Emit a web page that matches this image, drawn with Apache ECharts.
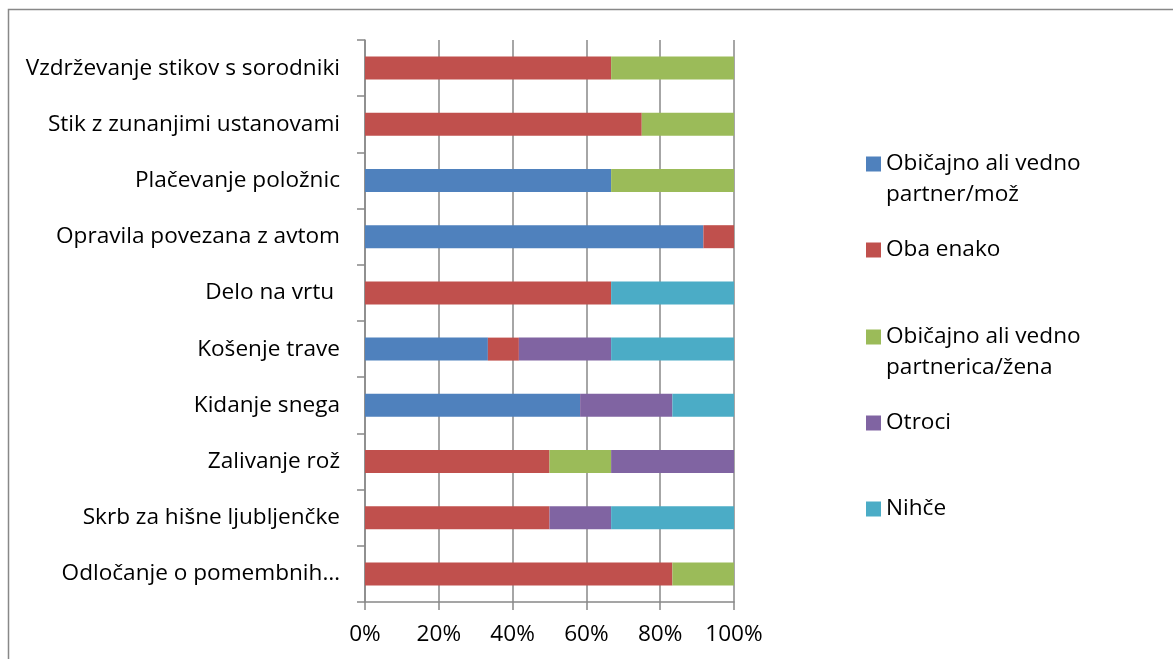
<!DOCTYPE html>
<html>
<head>
<meta charset="utf-8">
<script src="https://cdn.jsdelivr.net/npm/echarts@6/dist/echarts.min.js"></script>
<style>
  html, body { margin: 0; padding: 0; background: #fff; }
  #chart { width: 1173px; height: 659px; }
</style>
</head>
<body>
<div id="chart"></div>
<script>
// opravila od zgoraj navzdol
const categories = [
  'Vzdrževanje stikov s sorodniki',
  'Stik z zunanjimi ustanovami',
  'Plačevanje položnic',
  'Opravila povezana z avtom',
  'Delo na vrtu ',
  'Košenje trave',
  'Kidanje snega',
  'Zalivanje rož',
  'Skrb za hišne ljubljenčke',
  'Odločanje o pomembnih…'
];
const xTicks = [0, 20, 40, 60, 80, 100];

// deleži v %
const partnerMoz = [0, 0, 66.7, 91.7, 0, 33.3, 58.3, 0, 0, 0];
const obaEnako = [66.7, 75, 0, 8.3, 66.7, 8.4, 0, 50, 50, 83.3];
const partnericaZena = [33.3, 25, 33.3, 0, 0, 0, 0, 16.7, 0, 16.7];
const otroci = [0, 0, 0, 0, 0, 25, 25, 33.3, 16.7, 0];
const nihce = [0, 0, 0, 0, 33.3, 33.3, 16.7, 0, 33.3, 0];

const names = [
  'Običajno ali vedno\npartner/mož',
  'Oba enako',
  'Običajno ali vedno\npartnerica/žena',
  'Otroci',
  'Nihče'
];
const colors = ['#4F81BD', '#C0504D', '#9BBB59', '#8064A2', '#4BACC6'];
const values = [partnerMoz, obaEnako, partnericaZena, otroci, nihce];

const font = 'Open Sans';
const fontSize = 22.6;
const lineH = 31;
const legendCenters = [164, 250, 337, 423, 509];

// ena legenda na serijo, da je kvadratek poravnan s prvo vrstico
const legends = names.map((name, i) => {
  const twoLines = name.indexOf('\n') >= 0;
  const boxH = twoLines ? lineH * 3 : lineH;
  return {
    orient: 'vertical',
    left: 866,
    top: legendCenters[i] - boxH / 2,
    padding: 0,
    icon: 'rect',
    itemWidth: 15,
    itemHeight: 15,
    selectedMode: false,
    data: [name],
    formatter: (n) => (n.indexOf('\n') >= 0 ? ' \n' + n : n),
    textStyle: {
      fontFamily: font,
      fontSize: fontSize,
      color: '#000',
      lineHeight: lineH
    }
  };
});

const chart = echarts.init(document.getElementById('chart'));
chart.setOption({
  animation: false,
  backgroundColor: '#fff',
  textStyle: { fontFamily: font },
  graphic: [{
    type: 'rect',
    shape: { x: 8.5, y: 9.5, width: 1300, height: 800 },
    style: { fill: 'none', stroke: '#888', lineWidth: 1.5 },
    silent: true
  }],
  legend: legends,
  grid: { left: 365, top: 40, width: 369, height: 562 },
  xAxis: {
    type: 'value',
    min: xTicks[0],
    max: xTicks[xTicks.length - 1],
    interval: 20,
    axisLine: { show: true, lineStyle: { color: '#888', width: 1.5 } },
    axisTick: { show: true, length: 8, lineStyle: { color: '#888', width: 1.5 } },
    splitLine: { show: true, lineStyle: { color: '#888', width: 1.5 } },
    axisLabel: {
      formatter: '{value}%',
      fontFamily: font,
      fontSize: fontSize,
      color: '#000',
      margin: 21
    }
  },
  yAxis: {
    type: 'category',
    inverse: true,
    data: categories,
    axisLine: { show: true, lineStyle: { color: '#888', width: 1.5 } },
    axisTick: { show: true, length: 8, lineStyle: { color: '#888', width: 1.5 } },
    axisLabel: {
      fontFamily: font,
      fontSize: fontSize,
      color: '#000',
      margin: 25
    }
  },
  series: names.map((name, i) => ({
    name: name,
    type: 'bar',
    stack: 'total',
    barWidth: 23,
    itemStyle: { color: colors[i] },
    data: values[i]
  }))
});
</script>
</body>
</html>
